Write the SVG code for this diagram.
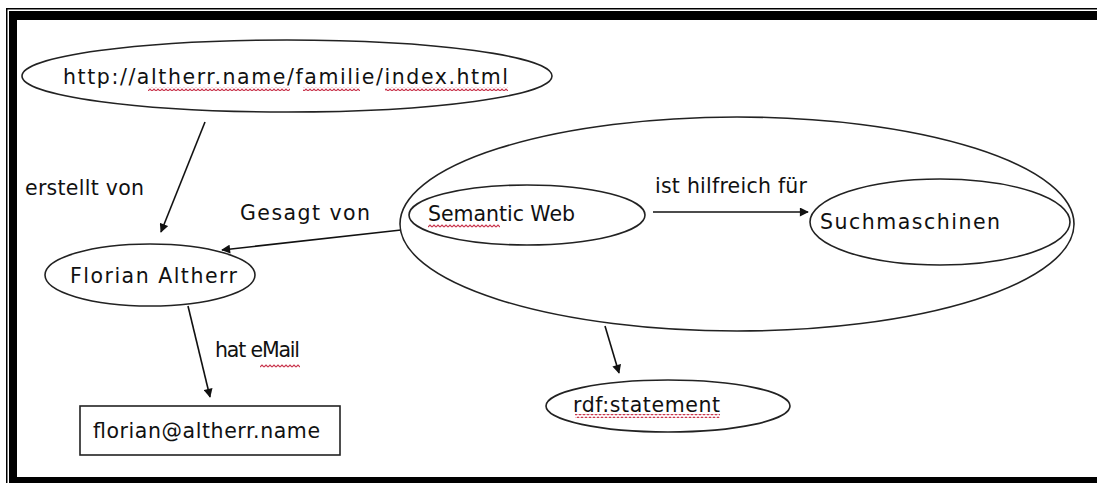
<svg xmlns="http://www.w3.org/2000/svg" width="1097" height="483" viewBox="0 0 1097 483">
<defs>
<style>
.n{fill:none;stroke:#222;stroke-width:1.6}
.t{font-family:"DejaVu Sans","Liberation Sans",sans-serif;font-size:20.5px;fill:#111}
.c{stroke:#111;stroke-width:1.6;fill:none;marker-end:url(#ah)}
</style>
<marker id="ah" viewBox="0 0 10 10" refX="9" refY="5" markerWidth="10" markerHeight="9" markerUnits="userSpaceOnUse" orient="auto">
<path d="M0,0 L10,5 L0,10 z" fill="#111"/>
</marker>
<pattern id="wave" width="4" height="4" patternUnits="userSpaceOnUse">
<path d="M0,3 L2,1 L4,3" fill="none" stroke="#c8324a" stroke-width="1.1"/>
</pattern>
</defs>
<rect width="1097" height="483" fill="#fff"/>
<g id="frame">
<rect x="6" y="8" width="1091" height="1.5" fill="#000"/>
<rect x="6" y="8" width="1.5" height="475" fill="#000"/>
<rect x="9" y="11" width="1088" height="9" fill="#000"/>
<rect x="9" y="11" width="8" height="472" fill="#000"/>
<rect x="9" y="477" width="1088" height="6" fill="#000"/>
</g>
<g id="connectors">
<line class="c" x1="205" y1="122" x2="161" y2="232"/>
<line class="c" x1="401" y1="230" x2="222" y2="250"/>
<line class="c" x1="653" y1="212" x2="808" y2="212"/>
<line class="c" x1="188" y1="306" x2="210" y2="397"/>
<line class="c" x1="605" y1="326" x2="619" y2="373"/>
<text class="t" x="25" y="195" textLength="119">erstellt von</text>
<text class="t" x="240" y="220" textLength="130">Gesagt von</text>
<text class="t" x="655" y="193" textLength="152">ist hilfreich für</text>
<text class="t" x="215" y="357" textLength="85">hat eMail</text>
<rect x="260" y="364" width="40" height="4" fill="url(#wave)"/>
</g>
<g id="url">
<ellipse class="n" cx="287" cy="76" rx="265" ry="36"/>
<text class="t" x="63" y="84" textLength="445">http://altherr.name/familie/index.html</text>
<rect x="148" y="87" width="142" height="4" fill="url(#wave)"/>
<rect x="303" y="87" width="57" height="4" fill="url(#wave)"/>
<rect x="385" y="87" width="123" height="4" fill="url(#wave)"/>
</g>
<g id="statement">
<ellipse class="n" cx="737" cy="224" rx="337" ry="107"/>
</g>
<g id="semweb">
<ellipse class="n" cx="527" cy="215" rx="118" ry="30"/>
<text class="t" x="428" y="221" textLength="147">Semantic Web</text>
<rect x="428" y="224" width="72" height="4" fill="url(#wave)"/>
</g>
<g id="such">
<ellipse class="n" cx="940" cy="222" rx="130" ry="43"/>
<text class="t" x="820" y="229" textLength="180">Suchmaschinen</text>
</g>
<g id="florian">
<ellipse class="n" cx="150" cy="275" rx="105" ry="31"/>
<text class="t" x="70" y="283" textLength="167">Florian Altherr</text>
</g>
<g id="email">
<rect class="n" x="80" y="406" width="260" height="49"/>
<text class="t" x="93" y="438" textLength="227">florian@altherr.name</text>
</g>
<g id="rdf">
<ellipse class="n" cx="668" cy="406" rx="122" ry="26"/>
<text class="t" x="573" y="412" textLength="147">rdf:statement</text>
<rect x="575" y="414" width="145" height="4" fill="url(#wave)"/>
</g>
</svg>
